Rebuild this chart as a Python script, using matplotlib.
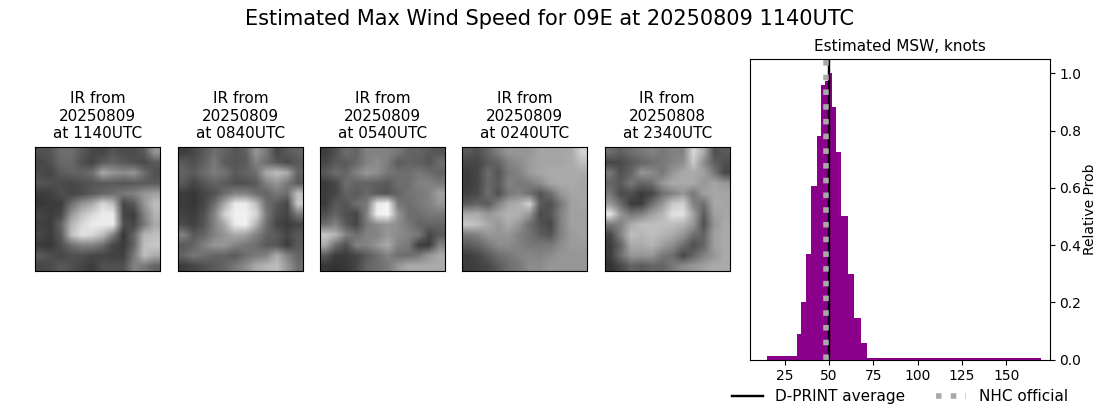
import numpy as np
import matplotlib
matplotlib.use('Agg')
import matplotlib.pyplot as plt

storm = '09E'
run_time = '20250809 1140UTC'
ir_days = ['20250809', '20250809', '20250809', '20250809', '20250808']
ir_times = ['1140UTC', '0840UTC', '0540UTC', '0240UTC', '2340UTC']

# coarse brightness
ir_1140 = [
    [80, 85, 110, 110, 90, 70, 70, 85, 75, 75, 90, 150],
    [70, 80, 105, 105, 80, 70, 90, 100, 90, 80, 75, 90],
    [75, 70, 90, 100, 100, 110, 170, 150, 140, 150, 110, 80],
    [85, 80, 75, 70, 80, 85, 90, 90, 85, 90, 90, 90],
    [60, 65, 80, 70, 75, 90, 100, 110, 120, 130, 150, 160],
    [55, 60, 60, 110, 150, 170, 215, 190, 70, 90, 150, 190],
    [70, 60, 70, 150, 190, 215, 235, 235, 70, 60, 130, 180],
    [65, 60, 100, 180, 215, 235, 235, 235, 80, 70, 120, 170],
    [70, 60, 90, 190, 225, 215, 190, 130, 55, 100, 180, 190],
    [60, 55, 80, 110, 130, 130, 110, 70, 60, 100, 190, 200],
    [90, 80, 70, 80, 80, 70, 70, 65, 65, 120, 190, 170],
    [70, 75, 90, 80, 70, 60, 80, 80, 80, 130, 120, 100],
]
ir_0840 = [
    [60, 70, 90, 110, 100, 85, 95, 150, 120, 70, 90, 100],
    [90, 80, 95, 120, 90, 85, 90, 130, 110, 90, 75, 90],
    [100, 90, 110, 125, 115, 90, 100, 110, 170, 190, 170, 100],
    [90, 70, 85, 100, 90, 80, 80, 90, 130, 150, 120, 90],
    [60, 55, 70, 80, 110, 130, 130, 110, 100, 120, 110, 190],
    [60, 55, 70, 110, 170, 235, 235, 190, 110, 90, 70, 200],
    [65, 60, 80, 130, 210, 240, 240, 215, 120, 80, 70, 120],
    [75, 65, 85, 130, 170, 235, 240, 180, 110, 70, 60, 70],
    [130, 90, 100, 130, 150, 170, 160, 130, 100, 90, 70, 90],
    [90, 100, 130, 150, 150, 130, 120, 110, 90, 85, 60, 90],
    [100, 120, 110, 100, 100, 90, 110, 120, 130, 170, 130, 100],
    [60, 70, 80, 90, 100, 120, 140, 170, 180, 190, 150, 110],
]
ir_0540 = [
    [60, 80, 110, 100, 130, 130, 130, 120, 100, 100, 90, 85],
    [70, 90, 90, 105, 130, 140, 125, 90, 100, 95, 85, 110],
    [90, 110, 100, 130, 150, 140, 120, 110, 110, 120, 110, 100],
    [60, 70, 110, 100, 100, 95, 90, 110, 110, 130, 130, 120],
    [60, 70, 100, 90, 105, 90, 85, 100, 115, 120, 130, 160],
    [60, 90, 85, 110, 120, 230, 245, 120, 110, 120, 130, 150],
    [80, 100, 80, 70, 130, 240, 245, 150, 110, 110, 120, 120],
    [110, 130, 90, 70, 120, 140, 150, 140, 120, 100, 100, 100],
    [200, 180, 130, 110, 130, 130, 150, 140, 130, 120, 70, 90],
    [170, 110, 80, 130, 130, 150, 170, 130, 120, 60, 60, 130],
    [90, 60, 60, 70, 90, 110, 130, 110, 110, 120, 150, 170],
    [55, 50, 55, 70, 100, 110, 120, 150, 170, 170, 170, 170],
]
ir_0240 = [
    [90, 80, 100, 130, 150, 150, 150, 165, 165, 165, 170, 210],
    [70, 70, 90, 100, 130, 140, 155, 165, 165, 165, 170, 190],
    [60, 70, 110, 85, 120, 130, 155, 165, 170, 170, 170, 170],
    [60, 70, 105, 90, 130, 120, 125, 140, 165, 170, 170, 165],
    [65, 75, 110, 80, 120, 130, 110, 85, 110, 150, 165, 165],
    [90, 100, 90, 130, 165, 175, 210, 90, 80, 120, 160, 165],
    [170, 170, 150, 165, 180, 175, 150, 75, 85, 130, 160, 160],
    [200, 190, 170, 150, 170, 150, 110, 85, 70, 130, 160, 160],
    [120, 130, 150, 150, 150, 130, 115, 95, 85, 130, 155, 160],
    [90, 100, 120, 140, 140, 130, 120, 120, 120, 140, 155, 155],
    [60, 70, 90, 110, 120, 130, 135, 130, 140, 150, 150, 150],
    [60, 65, 70, 90, 110, 120, 140, 140, 150, 150, 150, 150],
]
ir_2340 = [
    [110, 95, 110, 120, 130, 120, 130, 130, 215, 170, 80, 90],
    [70, 75, 90, 100, 110, 120, 130, 140, 200, 140, 95, 80],
    [120, 80, 100, 150, 140, 120, 150, 170, 170, 160, 120, 70],
    [100, 90, 120, 100, 110, 150, 170, 170, 170, 150, 165, 150],
    [120, 75, 80, 60, 70, 110, 130, 150, 120, 160, 165, 165],
    [150, 110, 60, 60, 110, 150, 200, 210, 130, 110, 170, 165],
    [230, 150, 120, 130, 160, 180, 225, 225, 160, 90, 160, 165],
    [120, 130, 170, 190, 190, 190, 190, 180, 150, 80, 150, 170],
    [70, 130, 190, 180, 190, 180, 170, 150, 110, 100, 160, 170],
    [60, 100, 170, 170, 180, 160, 140, 110, 80, 100, 160, 170],
    [60, 110, 150, 150, 150, 120, 110, 70, 100, 130, 150, 170],
    [50, 70, 100, 90, 100, 100, 120, 140, 150, 160, 170, 170],
]
ir_images = [ir_1140, ir_0840, ir_0540, ir_0240, ir_2340]

# histogram bins, knots
bin_edges = [15, 32, 34.2, 37, 39.8, 43.2, 45.5, 47.7, 50, 51.5, 54, 56.8,
             60.7, 64.2, 68, 71.5, 169.5]
bin_probs = [0.012, 0.09, 0.2, 0.368, 0.606, 0.78, 0.96, 0.973, 1.0, 0.882,
             0.725, 0.50, 0.298, 0.145, 0.057, 0.005]
dprint_avg = 50
nhc_official = 48
x_ticks = [25, 50, 75, 100, 125, 150]
y_ticks = [0.0, 0.2, 0.4, 0.6, 0.8, 1.0]

W, H = 1100, 409


def px_axes(fig, left, top, right, bottom):
    return fig.add_axes([left / W, 1 - bottom / H, (right - left) / W, (bottom - top) / H])


fig = plt.figure(figsize=(11, 4.09), dpi=100)
fig.text(0.4995, 0.954, f'Estimated Max Wind Speed for {storm} at {run_time}',
         ha='center', va='center', fontsize=15)

img_lefts = [35, 178, 320.3, 462.3, 604.8]
for i in range(5):
    ax = px_axes(fig, img_lefts[i], 147, img_lefts[i] + 124.7, 271)
    ax.imshow(np.array(ir_images[i]), cmap='gray', vmin=0, vmax=255,
              interpolation='bilinear', aspect='auto')
    ax.set_xticks([])
    ax.set_yticks([])
    ax.set_title(f'IR from\n{ir_days[i]}\nat {ir_times[i]}', fontsize=11, pad=6.5)

ax = px_axes(fig, 750, 59, 1049.5, 359.6)
edges = np.array(bin_edges)
ax.bar(edges[:-1], bin_probs, width=np.diff(edges), align='edge', color='darkmagenta')
l1 = ax.axvline(dprint_avg, color='black', lw=1.75, label='D-PRINT average')
l2 = ax.axvline(nhc_official, color='darkgray', lw=4, ls=':', label='NHC official')
ax.set_xlim(5.3, 174.5)
ax.set_ylim(0, 1.05)
ax.set_xticks(x_ticks)
ax.set_yticks(y_ticks)
ax.yaxis.tick_right()
ax.yaxis.set_label_position('right')
ax.set_ylabel('Relative Prob', labelpad=1)
ax.set_title('Estimated MSW, knots', fontsize=11, pad=6)

fig.legend(handles=[l1, l2], loc='center', bbox_to_anchor=(900 / W, 1 - 396.5 / H),
           ncol=2, frameon=False, fontsize=11, columnspacing=2.0)
fig.savefig('out.png', dpi=100)
